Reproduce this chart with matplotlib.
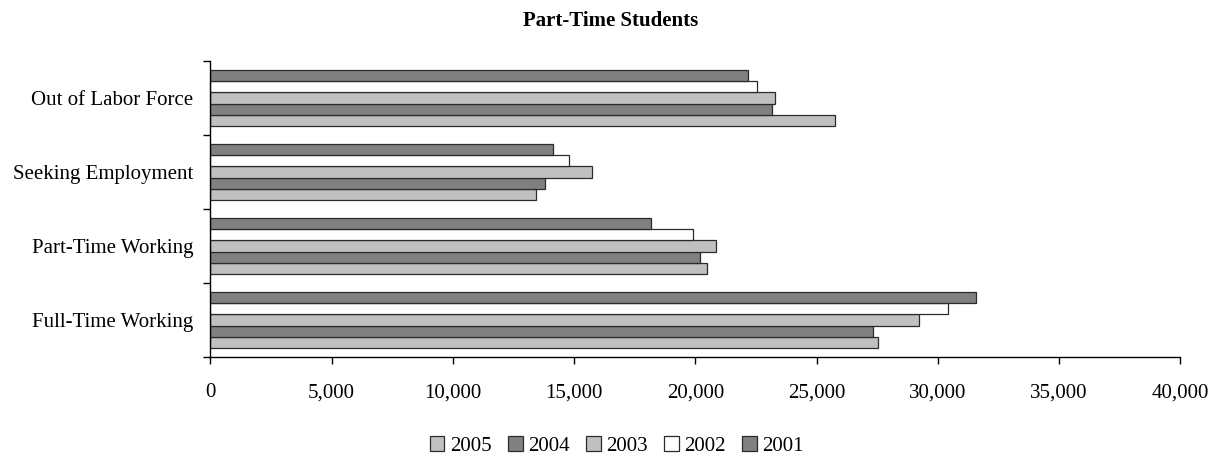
import matplotlib
matplotlib.use("Agg")
import matplotlib.pyplot as plt
import numpy as np
from matplotlib.patches import Patch

categories = ["Full-Time Working", "Part-Time Working", "Seeking Employment", "Out of Labor Force"]
years = ["2005", "2004", "2003", "2002", "2001"]

v2005 = [27550, 20490, 13410, 25750]
v2004 = [27330, 20190, 13810, 23170]
v2003 = [29240, 20850, 15720, 23290]
v2002 = [30420, 19910, 14790, 22560]
v2001 = [31560, 18190, 14140, 22160]

series = [v2005, v2004, v2003, v2002, v2001]
colors = ["#C0C0C0", "#808080", "#C0C0C0", "#FFFFFF", "#808080"]

plt.rcParams["font.family"] = ["Liberation Serif", "DejaVu Serif"]

fig = plt.figure(figsize=(12.21, 4.61), dpi=100)
ax = fig.add_axes([0.1722, 0.2256, 0.7946, 0.6421])

y = np.arange(len(categories))
w = 1 / 6.5
for k, (vals, col) in enumerate(zip(series, colors)):
    ax.barh(y + (k - 2) * w, vals, height=w, color=col,
            edgecolor="#2b2b2b", linewidth=0.9, zorder=2)

ax.set_xlim(0, 40000)
ax.set_ylim(-0.5, len(categories) - 0.5)

ax.set_xticks(np.arange(0, 40001, 5000))
ax.set_xticklabels([f"{int(t):,}" for t in np.arange(0, 40001, 5000)], fontsize=15)
ax.tick_params(axis="x", direction="out", length=5, width=1, pad=14)

ax.set_yticks(np.arange(-0.5, len(categories), 1.0))
ax.set_yticklabels([])
ax.set_yticks(y, minor=True)
ax.set_yticklabels(categories, minor=True, fontsize=15)
ax.tick_params(axis="y", which="major", direction="out", length=5, width=1)
ax.tick_params(axis="y", which="minor", length=0, pad=12)

for s in ["top", "right"]:
    ax.spines[s].set_visible(False)
for s in ["left", "bottom"]:
    ax.spines[s].set_linewidth(1)
    ax.spines[s].set_color("black")

fig.text(0.5, 0.955, "Part-Time Students", ha="center", va="center",
         fontsize=15, fontweight="bold")

handles = [Patch(facecolor=c, edgecolor="#2b2b2b", linewidth=0.9) for c in colors]
fig.legend(handles, years, loc="center", bbox_to_anchor=(0.505, 0.033), ncol=5,
           frameon=False, fontsize=15, handlelength=0.7, handleheight=0.7,
           handletextpad=0.25, columnspacing=0.8)

fig.savefig("out.png", dpi=100)
